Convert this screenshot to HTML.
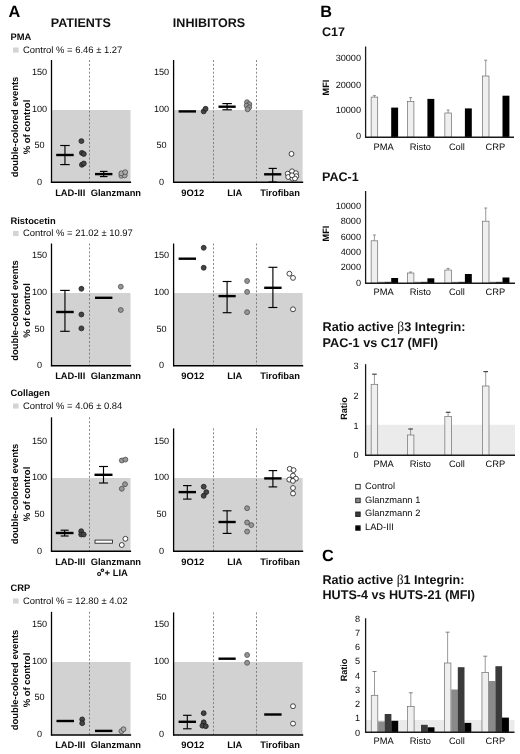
<!DOCTYPE html>
<html><head><meta charset="utf-8"><title>Figure</title>
<style>html,body{margin:0;padding:0;background:#fff;}svg{display:block;will-change:transform;}</style></head><body>
<svg width="520" height="754" viewBox="0 0 520 754" text-rendering="geometricPrecision" font-family='"Liberation Sans", sans-serif'>
<rect x="0" y="0" width="520" height="754" fill="#ffffff"/>
<text x="8.6" y="17" font-size="16.3" font-weight="bold" text-anchor="start" fill="#000">A</text>
<text x="80.8" y="27" font-size="12.55" font-weight="bold" text-anchor="middle" fill="#111">PATIENTS</text>
<text x="209" y="27" font-size="12.55" font-weight="bold" text-anchor="middle" fill="#111">INHIBITORS</text>
<text x="10.5" y="40" font-size="9.35" font-weight="bold" text-anchor="start" fill="#0a0a0a">PMA</text>
<rect x="13.00" y="47.50" width="5.60" height="5.10" fill="#d4d4d4"/>
<text x="23" y="52.5" font-size="9.45" text-anchor="start" fill="#0a0a0a">Control % = 6.46 ± 1.27</text>
<rect x="51.50" y="110.00" width="79.00" height="72.00" fill="#d2d2d2"/>
<line x1="89.5" y1="60" x2="89.5" y2="182" stroke="#6a6a6a" stroke-width="0.8" stroke-dasharray="2 1.9"/>
<line x1="51.5" y1="60" x2="51.5" y2="182.7" stroke="#000" stroke-width="1.3"/>
<line x1="50.9" y1="182.2" x2="131.1" y2="182.2" stroke="#000" stroke-width="1.4"/>
<text x="39.6" y="75" font-size="9.1" text-anchor="middle" fill="#0a0a0a">150</text>
<text x="39.6" y="112" font-size="9.1" text-anchor="middle" fill="#0a0a0a">100</text>
<text x="39.6" y="148" font-size="9.1" text-anchor="middle" fill="#0a0a0a">50</text>
<text x="39.6" y="185" font-size="9.1" text-anchor="middle" fill="#0a0a0a">0</text>
<text x="70.2" y="195.8" font-size="9.35" font-weight="bold" text-anchor="middle" fill="#0a0a0a">LAD-III</text>
<text x="115.9" y="195.8" font-size="9.35" font-weight="bold" text-anchor="middle" fill="#0a0a0a">Glanzmann</text>
<rect x="173.60" y="110.00" width="129.00" height="72.00" fill="#d2d2d2"/>
<line x1="213.5" y1="60" x2="213.5" y2="182" stroke="#6a6a6a" stroke-width="0.8" stroke-dasharray="2 1.9"/>
<line x1="256.5" y1="60" x2="256.5" y2="182" stroke="#6a6a6a" stroke-width="0.8" stroke-dasharray="2 1.9"/>
<line x1="173.6" y1="60" x2="173.6" y2="182.7" stroke="#000" stroke-width="1.3"/>
<line x1="173.0" y1="182.2" x2="303.20000000000005" y2="182.2" stroke="#000" stroke-width="1.4"/>
<text x="161.5" y="75" font-size="9.1" text-anchor="middle" fill="#0a0a0a">150</text>
<text x="161.5" y="112" font-size="9.1" text-anchor="middle" fill="#0a0a0a">100</text>
<text x="161.5" y="148" font-size="9.1" text-anchor="middle" fill="#0a0a0a">50</text>
<text x="161.5" y="185" font-size="9.1" text-anchor="middle" fill="#0a0a0a">0</text>
<text x="192.8" y="195.8" font-size="9.35" font-weight="bold" text-anchor="middle" fill="#0a0a0a">9O12</text>
<text x="234.8" y="195.8" font-size="9.35" font-weight="bold" text-anchor="middle" fill="#0a0a0a">LIA</text>
<text x="280.1" y="195.8" font-size="9.35" font-weight="bold" text-anchor="middle" fill="#0a0a0a">Tirofiban</text>
<text transform="translate(18.2,127) rotate(-90)" font-size="9.45" font-weight="bold" text-anchor="middle" fill="#0a0a0a">double-colored events</text>
<text transform="translate(29.9,127) rotate(-90)" font-size="9.45" font-weight="bold" text-anchor="middle" fill="#0a0a0a">% of control</text>
<text x="10.5" y="223.5" font-size="9.35" font-weight="bold" text-anchor="start" fill="#0a0a0a">Ristocetin</text>
<rect x="13.00" y="231.00" width="5.60" height="5.10" fill="#d4d4d4"/>
<text x="23" y="236" font-size="9.45" text-anchor="start" fill="#0a0a0a">Control % = 21.02 ± 10.97</text>
<rect x="51.50" y="293.00" width="79.00" height="72.50" fill="#d2d2d2"/>
<line x1="89.5" y1="243.5" x2="89.5" y2="365.5" stroke="#6a6a6a" stroke-width="0.8" stroke-dasharray="2 1.9"/>
<line x1="51.5" y1="243.5" x2="51.5" y2="366.2" stroke="#000" stroke-width="1.3"/>
<line x1="50.9" y1="365.7" x2="131.1" y2="365.7" stroke="#000" stroke-width="1.4"/>
<text x="39.6" y="258" font-size="9.1" text-anchor="middle" fill="#0a0a0a">150</text>
<text x="39.6" y="295" font-size="9.1" text-anchor="middle" fill="#0a0a0a">100</text>
<text x="39.6" y="332" font-size="9.1" text-anchor="middle" fill="#0a0a0a">50</text>
<text x="39.6" y="368" font-size="9.1" text-anchor="middle" fill="#0a0a0a">0</text>
<text x="70.2" y="379" font-size="9.35" font-weight="bold" text-anchor="middle" fill="#0a0a0a">LAD-III</text>
<text x="115.9" y="379" font-size="9.35" font-weight="bold" text-anchor="middle" fill="#0a0a0a">Glanzmann</text>
<rect x="173.60" y="293.00" width="129.00" height="72.50" fill="#d2d2d2"/>
<line x1="213.5" y1="243.5" x2="213.5" y2="365.5" stroke="#6a6a6a" stroke-width="0.8" stroke-dasharray="2 1.9"/>
<line x1="256.5" y1="243.5" x2="256.5" y2="365.5" stroke="#6a6a6a" stroke-width="0.8" stroke-dasharray="2 1.9"/>
<line x1="173.6" y1="243.5" x2="173.6" y2="366.2" stroke="#000" stroke-width="1.3"/>
<line x1="173.0" y1="365.7" x2="303.20000000000005" y2="365.7" stroke="#000" stroke-width="1.4"/>
<text x="161.5" y="258" font-size="9.1" text-anchor="middle" fill="#0a0a0a">150</text>
<text x="161.5" y="295" font-size="9.1" text-anchor="middle" fill="#0a0a0a">100</text>
<text x="161.5" y="332" font-size="9.1" text-anchor="middle" fill="#0a0a0a">50</text>
<text x="161.5" y="368" font-size="9.1" text-anchor="middle" fill="#0a0a0a">0</text>
<text x="192.8" y="379" font-size="9.35" font-weight="bold" text-anchor="middle" fill="#0a0a0a">9O12</text>
<text x="234.8" y="379" font-size="9.35" font-weight="bold" text-anchor="middle" fill="#0a0a0a">LIA</text>
<text x="280.1" y="379" font-size="9.35" font-weight="bold" text-anchor="middle" fill="#0a0a0a">Tirofiban</text>
<text transform="translate(18.2,310.5) rotate(-90)" font-size="9.45" font-weight="bold" text-anchor="middle" fill="#0a0a0a">double-colored events</text>
<text transform="translate(29.9,310.5) rotate(-90)" font-size="9.45" font-weight="bold" text-anchor="middle" fill="#0a0a0a">% of control</text>
<text x="10.5" y="395.7" font-size="9.35" font-weight="bold" text-anchor="start" fill="#0a0a0a">Collagen</text>
<rect x="13.00" y="403.50" width="5.60" height="5.10" fill="#d4d4d4"/>
<text x="23" y="408.5" font-size="9.45" text-anchor="start" fill="#0a0a0a">Control % = 4.06 ± 0.84</text>
<rect x="51.50" y="478.00" width="79.00" height="73.00" fill="#d2d2d2"/>
<line x1="89.5" y1="417.3" x2="89.5" y2="551" stroke="#6a6a6a" stroke-width="0.8" stroke-dasharray="2 1.9"/>
<line x1="51.5" y1="417.3" x2="51.5" y2="551.7" stroke="#000" stroke-width="1.3"/>
<line x1="50.9" y1="551.2" x2="131.1" y2="551.2" stroke="#000" stroke-width="1.4"/>
<text x="39.6" y="444" font-size="9.1" text-anchor="middle" fill="#0a0a0a">150</text>
<text x="39.6" y="480" font-size="9.1" text-anchor="middle" fill="#0a0a0a">100</text>
<text x="39.6" y="517" font-size="9.1" text-anchor="middle" fill="#0a0a0a">50</text>
<text x="39.6" y="554" font-size="9.1" text-anchor="middle" fill="#0a0a0a">0</text>
<text x="70.2" y="564.9" font-size="9.35" font-weight="bold" text-anchor="middle" fill="#0a0a0a">LAD-III</text>
<text x="115.9" y="564.9" font-size="9.35" font-weight="bold" text-anchor="middle" fill="#0a0a0a">Glanzmann</text>
<rect x="173.60" y="478.00" width="129.00" height="73.00" fill="#d2d2d2"/>
<line x1="213.5" y1="428.4" x2="213.5" y2="551" stroke="#6a6a6a" stroke-width="0.8" stroke-dasharray="2 1.9"/>
<line x1="256.5" y1="428.4" x2="256.5" y2="551" stroke="#6a6a6a" stroke-width="0.8" stroke-dasharray="2 1.9"/>
<line x1="173.6" y1="428.4" x2="173.6" y2="551.7" stroke="#000" stroke-width="1.3"/>
<line x1="173.0" y1="551.2" x2="303.20000000000005" y2="551.2" stroke="#000" stroke-width="1.4"/>
<text x="161.5" y="444" font-size="9.1" text-anchor="middle" fill="#0a0a0a">150</text>
<text x="161.5" y="480" font-size="9.1" text-anchor="middle" fill="#0a0a0a">100</text>
<text x="161.5" y="517" font-size="9.1" text-anchor="middle" fill="#0a0a0a">50</text>
<text x="161.5" y="554" font-size="9.1" text-anchor="middle" fill="#0a0a0a">0</text>
<text x="192.8" y="564.9" font-size="9.35" font-weight="bold" text-anchor="middle" fill="#0a0a0a">9O12</text>
<text x="234.8" y="564.9" font-size="9.35" font-weight="bold" text-anchor="middle" fill="#0a0a0a">LIA</text>
<text x="280.1" y="564.9" font-size="9.35" font-weight="bold" text-anchor="middle" fill="#0a0a0a">Tirofiban</text>
<text transform="translate(18.2,494) rotate(-90)" font-size="9.45" font-weight="bold" text-anchor="middle" fill="#0a0a0a">double-colored events</text>
<text transform="translate(29.9,494) rotate(-90)" font-size="9.45" font-weight="bold" text-anchor="middle" fill="#0a0a0a">% of control</text>
<text x="10.5" y="591" font-size="9.35" font-weight="bold" text-anchor="start" fill="#0a0a0a">CRP</text>
<rect x="13.00" y="598.50" width="5.60" height="5.10" fill="#d4d4d4"/>
<text x="23" y="603.5" font-size="9.45" text-anchor="start" fill="#0a0a0a">Control % = 12.80 ± 4.02</text>
<rect x="51.50" y="662.00" width="79.00" height="72.80" fill="#d2d2d2"/>
<line x1="89.5" y1="611.8" x2="89.5" y2="734.8" stroke="#6a6a6a" stroke-width="0.8" stroke-dasharray="2 1.9"/>
<line x1="51.5" y1="611.8" x2="51.5" y2="735.5" stroke="#000" stroke-width="1.3"/>
<line x1="50.9" y1="735.0" x2="131.1" y2="735.0" stroke="#000" stroke-width="1.4"/>
<text x="39.6" y="627" font-size="9.1" text-anchor="middle" fill="#0a0a0a">150</text>
<text x="39.6" y="664" font-size="9.1" text-anchor="middle" fill="#0a0a0a">100</text>
<text x="39.6" y="700" font-size="9.1" text-anchor="middle" fill="#0a0a0a">50</text>
<text x="39.6" y="737" font-size="9.1" text-anchor="middle" fill="#0a0a0a">0</text>
<text x="70.2" y="747.6" font-size="9.35" font-weight="bold" text-anchor="middle" fill="#0a0a0a">LAD-III</text>
<text x="115.9" y="747.6" font-size="9.35" font-weight="bold" text-anchor="middle" fill="#0a0a0a">Glanzmann</text>
<rect x="173.60" y="662.00" width="129.00" height="72.80" fill="#d2d2d2"/>
<line x1="213.5" y1="612.4" x2="213.5" y2="734.8" stroke="#6a6a6a" stroke-width="0.8" stroke-dasharray="2 1.9"/>
<line x1="256.5" y1="612.4" x2="256.5" y2="734.8" stroke="#6a6a6a" stroke-width="0.8" stroke-dasharray="2 1.9"/>
<line x1="173.6" y1="612.4" x2="173.6" y2="735.5" stroke="#000" stroke-width="1.3"/>
<line x1="173.0" y1="735.0" x2="303.20000000000005" y2="735.0" stroke="#000" stroke-width="1.4"/>
<text x="161.5" y="627" font-size="9.1" text-anchor="middle" fill="#0a0a0a">150</text>
<text x="161.5" y="664" font-size="9.1" text-anchor="middle" fill="#0a0a0a">100</text>
<text x="161.5" y="700" font-size="9.1" text-anchor="middle" fill="#0a0a0a">50</text>
<text x="161.5" y="737" font-size="9.1" text-anchor="middle" fill="#0a0a0a">0</text>
<text x="192.8" y="747.6" font-size="9.35" font-weight="bold" text-anchor="middle" fill="#0a0a0a">9O12</text>
<text x="234.8" y="747.6" font-size="9.35" font-weight="bold" text-anchor="middle" fill="#0a0a0a">LIA</text>
<text x="280.1" y="747.6" font-size="9.35" font-weight="bold" text-anchor="middle" fill="#0a0a0a">Tirofiban</text>
<text transform="translate(18.2,680) rotate(-90)" font-size="9.45" font-weight="bold" text-anchor="middle" fill="#0a0a0a">double-colored events</text>
<text transform="translate(29.9,680) rotate(-90)" font-size="9.45" font-weight="bold" text-anchor="middle" fill="#0a0a0a">% of control</text>
<line x1="64.95" y1="145.5" x2="64.95" y2="164.6" stroke="#000" stroke-width="1.15"/>
<line x1="60.2" y1="145.5" x2="69.7" y2="145.5" stroke="#000" stroke-width="1.15"/>
<line x1="60.2" y1="164.6" x2="69.7" y2="164.6" stroke="#000" stroke-width="1.15"/>
<line x1="56.2" y1="155" x2="73.7" y2="155" stroke="#000" stroke-width="2.4"/>
<circle cx="81.4" cy="141.1" r="2.45" fill="#444444" stroke="#1c1c1c" stroke-width="0.8"/>
<circle cx="81.9" cy="152.9" r="2.45" fill="#444444" stroke="#1c1c1c" stroke-width="0.8"/>
<circle cx="83.8" cy="154" r="2.45" fill="#444444" stroke="#1c1c1c" stroke-width="0.8"/>
<circle cx="81.9" cy="164.8" r="2.45" fill="#444444" stroke="#1c1c1c" stroke-width="0.8"/>
<circle cx="83.8" cy="163.5" r="2.45" fill="#444444" stroke="#1c1c1c" stroke-width="0.8"/>
<line x1="103.7" y1="171.4" x2="103.7" y2="176.6" stroke="#000" stroke-width="1.15"/>
<line x1="99.9" y1="171.4" x2="107.5" y2="171.4" stroke="#000" stroke-width="1.15"/>
<line x1="99.9" y1="176.6" x2="107.5" y2="176.6" stroke="#000" stroke-width="1.15"/>
<line x1="95" y1="174.1" x2="112.4" y2="174.1" stroke="#000" stroke-width="2.4"/>
<circle cx="121.4" cy="175.8" r="2.45" fill="#aaaaaa" stroke="#4a4a4a" stroke-width="0.8"/>
<circle cx="124.7" cy="175.4" r="2.45" fill="#aaaaaa" stroke="#4a4a4a" stroke-width="0.8"/>
<circle cx="121.4" cy="173.3" r="2.45" fill="#aaaaaa" stroke="#4a4a4a" stroke-width="0.8"/>
<circle cx="125.2" cy="172.2" r="2.45" fill="#aaaaaa" stroke="#4a4a4a" stroke-width="0.8"/>
<line x1="178.6" y1="111.4" x2="196" y2="111.4" stroke="#000" stroke-width="2.4"/>
<circle cx="203.7" cy="111.4" r="2.45" fill="#444444" stroke="#1c1c1c" stroke-width="0.8"/>
<circle cx="205.6" cy="108.8" r="2.45" fill="#444444" stroke="#1c1c1c" stroke-width="0.8"/>
<line x1="227.1" y1="103.6" x2="227.1" y2="109.8" stroke="#000" stroke-width="1.15"/>
<line x1="222.35" y1="103.6" x2="231.85" y2="103.6" stroke="#000" stroke-width="1.15"/>
<line x1="222.35" y1="109.8" x2="231.85" y2="109.8" stroke="#000" stroke-width="1.15"/>
<line x1="218.5" y1="106.7" x2="235.7" y2="106.7" stroke="#000" stroke-width="2.4"/>
<circle cx="247" cy="102.2" r="2.45" fill="#969696" stroke="#4c4c4c" stroke-width="0.8"/>
<circle cx="249.3" cy="104.2" r="2.45" fill="#969696" stroke="#4c4c4c" stroke-width="0.8"/>
<circle cx="246.6" cy="105.6" r="2.45" fill="#969696" stroke="#4c4c4c" stroke-width="0.8"/>
<circle cx="249.2" cy="107.3" r="2.45" fill="#969696" stroke="#4c4c4c" stroke-width="0.8"/>
<circle cx="247.6" cy="109.3" r="2.45" fill="#969696" stroke="#4c4c4c" stroke-width="0.8"/>
<line x1="272.70000000000005" y1="168.4" x2="272.70000000000005" y2="182" stroke="#000" stroke-width="1.15"/>
<line x1="268.6" y1="168.4" x2="276.80000000000007" y2="168.4" stroke="#000" stroke-width="1.15"/>
<line x1="268.6" y1="182" x2="276.80000000000007" y2="182" stroke="#000" stroke-width="1.15"/>
<line x1="264.1" y1="174.3" x2="281.3" y2="174.3" stroke="#000" stroke-width="2.4"/>
<circle cx="291.5" cy="153.9" r="2.45" fill="#ffffff" stroke="#1c1c1c" stroke-width="0.8"/>
<circle cx="292" cy="171.3" r="2.45" fill="#ffffff" stroke="#1c1c1c" stroke-width="0.8"/>
<circle cx="287.7" cy="173.7" r="2.45" fill="#ffffff" stroke="#1c1c1c" stroke-width="0.8"/>
<circle cx="295.9" cy="173.2" r="2.45" fill="#ffffff" stroke="#1c1c1c" stroke-width="0.8"/>
<circle cx="288.2" cy="177" r="2.45" fill="#ffffff" stroke="#1c1c1c" stroke-width="0.8"/>
<circle cx="296.3" cy="176.2" r="2.45" fill="#ffffff" stroke="#1c1c1c" stroke-width="0.8"/>
<circle cx="292.5" cy="178.6" r="2.45" fill="#ffffff" stroke="#1c1c1c" stroke-width="0.8"/>
<circle cx="294.9" cy="178.5" r="2.45" fill="#ffffff" stroke="#1c1c1c" stroke-width="0.8"/>
<circle cx="292" cy="175.3" r="2.45" fill="#ffffff" stroke="#1c1c1c" stroke-width="0.8"/>
<line x1="64.95" y1="290.4" x2="64.95" y2="331.3" stroke="#000" stroke-width="1.15"/>
<line x1="60.2" y1="290.4" x2="69.7" y2="290.4" stroke="#000" stroke-width="1.15"/>
<line x1="60.2" y1="331.3" x2="69.7" y2="331.3" stroke="#000" stroke-width="1.15"/>
<line x1="56.2" y1="312" x2="73.7" y2="312" stroke="#000" stroke-width="2.4"/>
<circle cx="81.4" cy="288.8" r="2.45" fill="#444444" stroke="#1c1c1c" stroke-width="0.8"/>
<circle cx="81.4" cy="314.5" r="2.45" fill="#444444" stroke="#1c1c1c" stroke-width="0.8"/>
<circle cx="81.4" cy="328.4" r="2.45" fill="#444444" stroke="#1c1c1c" stroke-width="0.8"/>
<line x1="95" y1="297.8" x2="112.4" y2="297.8" stroke="#000" stroke-width="2.4"/>
<circle cx="120.8" cy="286.7" r="2.45" fill="#969696" stroke="#4c4c4c" stroke-width="0.8"/>
<circle cx="120.8" cy="310" r="2.45" fill="#969696" stroke="#4c4c4c" stroke-width="0.8"/>
<line x1="178.6" y1="258.7" x2="196" y2="258.7" stroke="#000" stroke-width="2.4"/>
<circle cx="203.7" cy="247.8" r="2.45" fill="#444444" stroke="#1c1c1c" stroke-width="0.8"/>
<circle cx="203.7" cy="267.8" r="2.45" fill="#444444" stroke="#1c1c1c" stroke-width="0.8"/>
<line x1="227.1" y1="281.5" x2="227.1" y2="312.7" stroke="#000" stroke-width="1.15"/>
<line x1="222.7" y1="281.5" x2="231.5" y2="281.5" stroke="#000" stroke-width="1.15"/>
<line x1="222.7" y1="312.7" x2="231.5" y2="312.7" stroke="#000" stroke-width="1.15"/>
<line x1="218.5" y1="296.1" x2="235.7" y2="296.1" stroke="#000" stroke-width="2.4"/>
<circle cx="247.1" cy="281" r="2.45" fill="#969696" stroke="#4c4c4c" stroke-width="0.8"/>
<circle cx="247.1" cy="291.9" r="2.45" fill="#969696" stroke="#4c4c4c" stroke-width="0.8"/>
<circle cx="247.1" cy="312.2" r="2.45" fill="#969696" stroke="#4c4c4c" stroke-width="0.8"/>
<line x1="272.9" y1="267.3" x2="272.9" y2="307.5" stroke="#000" stroke-width="1.15"/>
<line x1="268.4" y1="267.3" x2="277.4" y2="267.3" stroke="#000" stroke-width="1.15"/>
<line x1="268.4" y1="307.5" x2="277.4" y2="307.5" stroke="#000" stroke-width="1.15"/>
<line x1="264.2" y1="287.8" x2="281.6" y2="287.8" stroke="#000" stroke-width="2.4"/>
<circle cx="289.4" cy="273.7" r="2.45" fill="#ffffff" stroke="#1c1c1c" stroke-width="0.8"/>
<circle cx="293" cy="277.9" r="2.45" fill="#ffffff" stroke="#1c1c1c" stroke-width="0.8"/>
<circle cx="293" cy="309.3" r="2.45" fill="#ffffff" stroke="#1c1c1c" stroke-width="0.8"/>
<line x1="64.65" y1="530.2" x2="64.65" y2="536" stroke="#000" stroke-width="1.15"/>
<line x1="60.650000000000006" y1="530.2" x2="68.65" y2="530.2" stroke="#000" stroke-width="1.15"/>
<line x1="60.650000000000006" y1="536" x2="68.65" y2="536" stroke="#000" stroke-width="1.15"/>
<line x1="55.8" y1="533" x2="73.5" y2="533" stroke="#000" stroke-width="2.4"/>
<circle cx="81.2" cy="531.2" r="2.45" fill="#444444" stroke="#1c1c1c" stroke-width="0.8"/>
<circle cx="81.2" cy="534.5" r="2.45" fill="#444444" stroke="#1c1c1c" stroke-width="0.8"/>
<circle cx="83.7" cy="534.5" r="2.45" fill="#444444" stroke="#1c1c1c" stroke-width="0.8"/>
<line x1="103.5" y1="466.5" x2="103.5" y2="483" stroke="#000" stroke-width="1.15"/>
<line x1="99.0" y1="466.5" x2="108.0" y2="466.5" stroke="#000" stroke-width="1.15"/>
<line x1="99.0" y1="483" x2="108.0" y2="483" stroke="#000" stroke-width="1.15"/>
<line x1="94.5" y1="474.8" x2="112.5" y2="474.8" stroke="#000" stroke-width="2.4"/>
<circle cx="121.8" cy="460.5" r="2.45" fill="#969696" stroke="#4c4c4c" stroke-width="0.8"/>
<circle cx="125.4" cy="459.6" r="2.45" fill="#969696" stroke="#4c4c4c" stroke-width="0.8"/>
<circle cx="125" cy="484.2" r="2.45" fill="#969696" stroke="#4c4c4c" stroke-width="0.8"/>
<circle cx="121.8" cy="488.8" r="2.45" fill="#969696" stroke="#4c4c4c" stroke-width="0.8"/>
<rect x="95.00" y="540.10" width="17.50" height="3.10" fill="#fff" stroke="#111" stroke-width="0.8"/>
<circle cx="125.4" cy="538.8" r="2.45" fill="#ffffff" stroke="#1c1c1c" stroke-width="0.8"/>
<circle cx="121.8" cy="545" r="2.45" fill="#ffffff" stroke="#1c1c1c" stroke-width="0.8"/>
<line x1="187.3" y1="485.6" x2="187.3" y2="499.1" stroke="#000" stroke-width="1.15"/>
<line x1="183.05" y1="485.6" x2="191.55" y2="485.6" stroke="#000" stroke-width="1.15"/>
<line x1="183.05" y1="499.1" x2="191.55" y2="499.1" stroke="#000" stroke-width="1.15"/>
<line x1="178.6" y1="492.1" x2="196" y2="492.1" stroke="#000" stroke-width="2.4"/>
<circle cx="203.7" cy="486.7" r="2.45" fill="#444444" stroke="#1c1c1c" stroke-width="0.8"/>
<circle cx="206.3" cy="492.1" r="2.45" fill="#444444" stroke="#1c1c1c" stroke-width="0.8"/>
<circle cx="203.7" cy="495.8" r="2.45" fill="#444444" stroke="#1c1c1c" stroke-width="0.8"/>
<line x1="227.1" y1="510.8" x2="227.1" y2="533.4" stroke="#000" stroke-width="1.15"/>
<line x1="222.7" y1="510.8" x2="231.5" y2="510.8" stroke="#000" stroke-width="1.15"/>
<line x1="222.7" y1="533.4" x2="231.5" y2="533.4" stroke="#000" stroke-width="1.15"/>
<line x1="218.5" y1="522" x2="235.7" y2="522" stroke="#000" stroke-width="2.4"/>
<circle cx="247.1" cy="508.2" r="2.45" fill="#969696" stroke="#4c4c4c" stroke-width="0.8"/>
<circle cx="247.1" cy="522.5" r="2.45" fill="#969696" stroke="#4c4c4c" stroke-width="0.8"/>
<circle cx="251.3" cy="525.1" r="2.45" fill="#969696" stroke="#4c4c4c" stroke-width="0.8"/>
<circle cx="247.1" cy="531.6" r="2.45" fill="#969696" stroke="#4c4c4c" stroke-width="0.8"/>
<line x1="272.9" y1="470.6" x2="272.9" y2="486.9" stroke="#000" stroke-width="1.15"/>
<line x1="268.59999999999997" y1="470.6" x2="277.2" y2="470.6" stroke="#000" stroke-width="1.15"/>
<line x1="268.59999999999997" y1="486.9" x2="277.2" y2="486.9" stroke="#000" stroke-width="1.15"/>
<line x1="264.2" y1="478.4" x2="281.6" y2="478.4" stroke="#000" stroke-width="2.4"/>
<circle cx="289.7" cy="468.8" r="2.45" fill="#ffffff" stroke="#1c1c1c" stroke-width="0.8"/>
<circle cx="293.6" cy="470.1" r="2.45" fill="#ffffff" stroke="#1c1c1c" stroke-width="0.8"/>
<circle cx="293" cy="475.6" r="2.45" fill="#ffffff" stroke="#1c1c1c" stroke-width="0.8"/>
<circle cx="289.3" cy="479.6" r="2.45" fill="#ffffff" stroke="#1c1c1c" stroke-width="0.8"/>
<circle cx="295.9" cy="478.6" r="2.45" fill="#ffffff" stroke="#1c1c1c" stroke-width="0.8"/>
<circle cx="292.9" cy="480.9" r="2.45" fill="#ffffff" stroke="#1c1c1c" stroke-width="0.8"/>
<circle cx="293" cy="488" r="2.45" fill="#ffffff" stroke="#1c1c1c" stroke-width="0.8"/>
<circle cx="293" cy="493.5" r="2.45" fill="#ffffff" stroke="#1c1c1c" stroke-width="0.8"/>
<circle cx="99.1" cy="573.9" r="1.5" fill="#fff" stroke="#000" stroke-width="1.05"/>
<circle cx="102.4" cy="570.2" r="1.3" fill="#fff" stroke="#000" stroke-width="1.05"/>
<text x="104.5" y="576" font-size="9.45" font-weight="bold" text-anchor="start" fill="#0a0a0a">+ LIA</text>
<line x1="56.5" y1="721" x2="74" y2="721" stroke="#000" stroke-width="2.4"/>
<circle cx="82.2" cy="719.4" r="2.45" fill="#444444" stroke="#1c1c1c" stroke-width="0.8"/>
<circle cx="82.2" cy="723.2" r="2.45" fill="#444444" stroke="#1c1c1c" stroke-width="0.8"/>
<line x1="95" y1="730.9" x2="112.4" y2="730.9" stroke="#000" stroke-width="2.4"/>
<circle cx="121.4" cy="731.2" r="2.45" fill="#aaaaaa" stroke="#4a4a4a" stroke-width="0.8"/>
<circle cx="123.5" cy="729.2" r="2.45" fill="#aaaaaa" stroke="#4a4a4a" stroke-width="0.8"/>
<line x1="187.3" y1="715.3" x2="187.3" y2="728.8" stroke="#000" stroke-width="1.15"/>
<line x1="183.05" y1="715.3" x2="191.55" y2="715.3" stroke="#000" stroke-width="1.15"/>
<line x1="183.05" y1="728.8" x2="191.55" y2="728.8" stroke="#000" stroke-width="1.15"/>
<line x1="178.6" y1="721.8" x2="196" y2="721.8" stroke="#000" stroke-width="2.4"/>
<circle cx="203.7" cy="713.2" r="2.45" fill="#444444" stroke="#1c1c1c" stroke-width="0.8"/>
<circle cx="203.7" cy="722.3" r="2.45" fill="#444444" stroke="#1c1c1c" stroke-width="0.8"/>
<circle cx="202.4" cy="725.7" r="2.45" fill="#444444" stroke="#1c1c1c" stroke-width="0.8"/>
<circle cx="205.8" cy="726.2" r="2.45" fill="#444444" stroke="#1c1c1c" stroke-width="0.8"/>
<line x1="218.5" y1="658.7" x2="235.7" y2="658.7" stroke="#000" stroke-width="2.4"/>
<circle cx="247.1" cy="655" r="2.45" fill="#969696" stroke="#4c4c4c" stroke-width="0.8"/>
<circle cx="247.1" cy="662.8" r="2.45" fill="#969696" stroke="#4c4c4c" stroke-width="0.8"/>
<line x1="264.2" y1="714.5" x2="281.6" y2="714.5" stroke="#000" stroke-width="2.4"/>
<circle cx="293" cy="706.2" r="2.45" fill="#ffffff" stroke="#1c1c1c" stroke-width="0.8"/>
<circle cx="293" cy="723.6" r="2.45" fill="#ffffff" stroke="#1c1c1c" stroke-width="0.8"/>
<text x="320.2" y="17" font-size="16.3" font-weight="bold" text-anchor="start" fill="#000">B</text>
<text x="322" y="36" font-size="12.55" font-weight="bold" text-anchor="start" fill="#111">C17</text>
<text x="322" y="180.5" font-size="12.55" font-weight="bold" text-anchor="start" fill="#111">PAC-1</text>
<text x="361" y="61" font-size="9.15" text-anchor="end" fill="#0a0a0a">30000</text>
<text x="361" y="88" font-size="9.15" text-anchor="end" fill="#0a0a0a">20000</text>
<text x="361" y="113" font-size="9.15" text-anchor="end" fill="#0a0a0a">10000</text>
<text x="361" y="139" font-size="9.15" text-anchor="end" fill="#0a0a0a">0</text>
<line x1="374.42" y1="95.6" x2="374.42" y2="97.1" stroke="#808080" stroke-width="0.8"/>
<line x1="372.92" y1="95.6" x2="375.92" y2="95.6" stroke="#777" stroke-width="0.8"/>
<rect x="371.15" y="97.10" width="6.55" height="40.10" fill="#efefef" stroke="#6e6e6e" stroke-width="0.7"/>
<rect x="391.20" y="107.60" width="6.90" height="29.60" fill="#000000"/>
<line x1="410.62" y1="97.6" x2="410.62" y2="101.4" stroke="#808080" stroke-width="0.8"/>
<line x1="409.12" y1="97.6" x2="412.12" y2="97.6" stroke="#777" stroke-width="0.8"/>
<rect x="407.35" y="101.40" width="6.55" height="35.80" fill="#efefef" stroke="#6e6e6e" stroke-width="0.7"/>
<rect x="427.40" y="98.90" width="6.90" height="38.30" fill="#000000"/>
<line x1="448.12" y1="110" x2="448.12" y2="113" stroke="#808080" stroke-width="0.8"/>
<line x1="446.62" y1="110" x2="449.62" y2="110" stroke="#777" stroke-width="0.8"/>
<rect x="444.85" y="113.00" width="6.55" height="24.20" fill="#efefef" stroke="#6e6e6e" stroke-width="0.7"/>
<rect x="464.90" y="108.40" width="6.90" height="28.80" fill="#000000"/>
<line x1="485.72" y1="60.2" x2="485.72" y2="76" stroke="#808080" stroke-width="0.8"/>
<line x1="484.22" y1="60.2" x2="487.22" y2="60.2" stroke="#777" stroke-width="0.8"/>
<rect x="482.45" y="76.00" width="6.55" height="61.20" fill="#efefef" stroke="#6e6e6e" stroke-width="0.7"/>
<rect x="502.50" y="95.70" width="6.90" height="41.50" fill="#000000"/>
<line x1="365.6" y1="46.5" x2="365.6" y2="137.79999999999998" stroke="#1a1a1a" stroke-width="1.3"/>
<line x1="365.0" y1="137.2" x2="514" y2="137.2" stroke="#1a1a1a" stroke-width="1.4"/>
<text x="383.7" y="149.6" font-size="9.3" text-anchor="middle" fill="#0a0a0a">PMA</text>
<text x="420.3" y="149.6" font-size="9.3" text-anchor="middle" fill="#0a0a0a">Risto</text>
<text x="456.9" y="149.6" font-size="9.3" text-anchor="middle" fill="#0a0a0a">Coll</text>
<text x="495.4" y="149.6" font-size="9.3" text-anchor="middle" fill="#0a0a0a">CRP</text>
<text transform="translate(328.8,87.5) rotate(-90)" font-size="9.2" font-weight="bold" text-anchor="middle" fill="#0a0a0a">MFI</text>
<text x="361" y="209" font-size="9.15" text-anchor="end" fill="#0a0a0a">10000</text>
<text x="361" y="224" font-size="9.15" text-anchor="end" fill="#0a0a0a">8000</text>
<text x="361" y="240" font-size="9.15" text-anchor="end" fill="#0a0a0a">6000</text>
<text x="361" y="255" font-size="9.15" text-anchor="end" fill="#0a0a0a">4000</text>
<text x="361" y="270" font-size="9.15" text-anchor="end" fill="#0a0a0a">2000</text>
<text x="361" y="286" font-size="9.15" text-anchor="end" fill="#0a0a0a">0</text>
<line x1="374.42" y1="235" x2="374.42" y2="240.8" stroke="#808080" stroke-width="0.8"/>
<line x1="372.92" y1="235" x2="375.92" y2="235" stroke="#777" stroke-width="0.8"/>
<rect x="371.15" y="240.80" width="6.55" height="42.40" fill="#efefef" stroke="#6e6e6e" stroke-width="0.7"/>
<rect x="378.00" y="281.80" width="6.70" height="1.40" fill="#8a8a8a"/>
<rect x="384.60" y="281.80" width="6.70" height="1.40" fill="#3a3a3a"/>
<rect x="391.20" y="278.00" width="6.90" height="5.20" fill="#000000"/>
<line x1="410.62" y1="272" x2="410.62" y2="273" stroke="#808080" stroke-width="0.8"/>
<line x1="409.12" y1="272" x2="412.12" y2="272" stroke="#777" stroke-width="0.8"/>
<rect x="407.35" y="273.00" width="6.55" height="10.20" fill="#efefef" stroke="#6e6e6e" stroke-width="0.7"/>
<rect x="414.20" y="281.80" width="6.70" height="1.40" fill="#8a8a8a"/>
<rect x="420.80" y="281.80" width="6.70" height="1.40" fill="#3a3a3a"/>
<rect x="427.40" y="278.30" width="6.90" height="4.90" fill="#000000"/>
<line x1="448.12" y1="268.4" x2="448.12" y2="270" stroke="#808080" stroke-width="0.8"/>
<line x1="446.62" y1="268.4" x2="449.62" y2="268.4" stroke="#777" stroke-width="0.8"/>
<rect x="444.85" y="270.00" width="6.55" height="13.20" fill="#efefef" stroke="#6e6e6e" stroke-width="0.7"/>
<rect x="451.70" y="281.80" width="6.70" height="1.40" fill="#8a8a8a"/>
<rect x="458.30" y="281.80" width="6.70" height="1.40" fill="#3a3a3a"/>
<rect x="464.90" y="274.00" width="6.90" height="9.20" fill="#000000"/>
<line x1="485.72" y1="208" x2="485.72" y2="221.2" stroke="#808080" stroke-width="0.8"/>
<line x1="484.22" y1="208" x2="487.22" y2="208" stroke="#777" stroke-width="0.8"/>
<rect x="482.45" y="221.20" width="6.55" height="62.00" fill="#efefef" stroke="#6e6e6e" stroke-width="0.7"/>
<rect x="489.30" y="281.80" width="6.70" height="1.40" fill="#8a8a8a"/>
<rect x="495.90" y="281.80" width="6.70" height="1.40" fill="#3a3a3a"/>
<rect x="502.50" y="277.50" width="6.90" height="5.70" fill="#000000"/>
<line x1="365.6" y1="191" x2="365.6" y2="283.8" stroke="#1a1a1a" stroke-width="1.3"/>
<line x1="365.0" y1="283.2" x2="515" y2="283.2" stroke="#1a1a1a" stroke-width="1.4"/>
<text x="383.7" y="295.3" font-size="9.3" text-anchor="middle" fill="#0a0a0a">PMA</text>
<text x="420.3" y="295.3" font-size="9.3" text-anchor="middle" fill="#0a0a0a">Risto</text>
<text x="456.9" y="295.3" font-size="9.3" text-anchor="middle" fill="#0a0a0a">Coll</text>
<text x="495.4" y="295.3" font-size="9.3" text-anchor="middle" fill="#0a0a0a">CRP</text>
<text transform="translate(328.8,233.5) rotate(-90)" font-size="9.2" font-weight="bold" text-anchor="middle" fill="#0a0a0a">MFI</text>
<text x="322.5" y="331" font-size="12.7" font-weight="bold" fill="#111">Ratio active <tspan font-family='"Liberation Serif", serif' font-weight="normal" font-size="13.5">β</tspan>3 Integrin:</text>
<text x="322.5" y="347" font-size="12.7" font-weight="bold" text-anchor="start" fill="#111">PAC-1 vs C17 (MFI)</text>
<rect x="365.60" y="424.80" width="149.40" height="30.50" fill="#ebebeb"/>
<text x="358.6" y="369" font-size="9.15" text-anchor="end" fill="#0a0a0a">3</text>
<text x="358.6" y="399" font-size="9.15" text-anchor="end" fill="#0a0a0a">2</text>
<text x="358.6" y="429" font-size="9.15" text-anchor="end" fill="#0a0a0a">1</text>
<text x="358.6" y="458" font-size="9.15" text-anchor="end" fill="#0a0a0a">0</text>
<line x1="374.42" y1="374.2" x2="374.42" y2="384.3" stroke="#808080" stroke-width="0.8"/>
<line x1="372.12" y1="374.2" x2="376.72" y2="374.2" stroke="#444" stroke-width="1.2"/>
<rect x="371.15" y="384.30" width="6.55" height="71.00" fill="#efefef" stroke="#6e6e6e" stroke-width="0.7"/>
<line x1="410.62" y1="429" x2="410.62" y2="435" stroke="#808080" stroke-width="0.8"/>
<line x1="408.32" y1="429" x2="412.92" y2="429" stroke="#444" stroke-width="1.2"/>
<rect x="407.35" y="435.00" width="6.55" height="20.30" fill="#efefef" stroke="#6e6e6e" stroke-width="0.7"/>
<line x1="448.12" y1="412.3" x2="448.12" y2="416.6" stroke="#808080" stroke-width="0.8"/>
<line x1="445.82" y1="412.3" x2="450.42" y2="412.3" stroke="#444" stroke-width="1.2"/>
<rect x="444.85" y="416.60" width="6.55" height="38.70" fill="#efefef" stroke="#6e6e6e" stroke-width="0.7"/>
<line x1="485.72" y1="371.6" x2="485.72" y2="386" stroke="#808080" stroke-width="0.8"/>
<line x1="483.42" y1="371.6" x2="488.02000000000004" y2="371.6" stroke="#444" stroke-width="1.2"/>
<rect x="482.45" y="386.00" width="6.55" height="69.30" fill="#efefef" stroke="#6e6e6e" stroke-width="0.7"/>
<line x1="365.6" y1="364.2" x2="365.6" y2="455.90000000000003" stroke="#1a1a1a" stroke-width="1.3"/>
<line x1="365.0" y1="455.3" x2="515" y2="455.3" stroke="#1a1a1a" stroke-width="1.4"/>
<text x="383.7" y="467.2" font-size="9.3" text-anchor="middle" fill="#0a0a0a">PMA</text>
<text x="420.3" y="467.2" font-size="9.3" text-anchor="middle" fill="#0a0a0a">Risto</text>
<text x="456.9" y="467.2" font-size="9.3" text-anchor="middle" fill="#0a0a0a">Coll</text>
<text x="495.4" y="467.2" font-size="9.3" text-anchor="middle" fill="#0a0a0a">CRP</text>
<text transform="translate(347.3,408.5) rotate(-90)" font-size="9.1" font-weight="bold" text-anchor="middle" fill="#0a0a0a">Ratio</text>
<rect x="355.70" y="484.40" width="4.50" height="4.50" fill="#ffffff" stroke="#222" stroke-width="0.9"/>
<text x="365" y="488.8" font-size="9.3" text-anchor="start" fill="#0a0a0a">Control</text>
<rect x="355.70" y="498.20" width="4.50" height="4.50" fill="#8a8a8a" stroke="#222" stroke-width="0.9"/>
<text x="365" y="502.6" font-size="9.3" text-anchor="start" fill="#0a0a0a">Glanzmann 1</text>
<rect x="355.70" y="512.00" width="4.50" height="4.50" fill="#3a3a3a" stroke="#222" stroke-width="0.9"/>
<text x="365" y="516.4" font-size="9.3" text-anchor="start" fill="#0a0a0a">Glanzmann 2</text>
<rect x="355.70" y="525.80" width="4.50" height="4.50" fill="#000000" stroke="#222" stroke-width="0.9"/>
<text x="365" y="530.2" font-size="9.3" text-anchor="start" fill="#0a0a0a">LAD-III</text>
<text x="322" y="561" font-size="16.3" font-weight="bold" text-anchor="start" fill="#000">C</text>
<text x="322.5" y="584" font-size="12.6" font-weight="bold" fill="#111">Ratio active <tspan font-family='"Liberation Serif", serif' font-weight="normal" font-size="13.5">β</tspan>1 Integrin:</text>
<text x="322.5" y="598.6" font-size="12.6" font-weight="bold" text-anchor="start" fill="#111">HUTS-4 vs HUTS-21 (MFI)</text>
<rect x="365.60" y="720.00" width="148.90" height="12.30" fill="#ebebeb"/>
<text x="360" y="622" font-size="9.15" text-anchor="end" fill="#0a0a0a">8</text>
<text x="360" y="636" font-size="9.15" text-anchor="end" fill="#0a0a0a">7</text>
<text x="360" y="650" font-size="9.15" text-anchor="end" fill="#0a0a0a">6</text>
<text x="360" y="664" font-size="9.15" text-anchor="end" fill="#0a0a0a">5</text>
<text x="360" y="679" font-size="9.15" text-anchor="end" fill="#0a0a0a">4</text>
<text x="360" y="693" font-size="9.15" text-anchor="end" fill="#0a0a0a">3</text>
<text x="360" y="707" font-size="9.15" text-anchor="end" fill="#0a0a0a">2</text>
<text x="360" y="721" font-size="9.15" text-anchor="end" fill="#0a0a0a">1</text>
<text x="360" y="736" font-size="9.15" text-anchor="end" fill="#0a0a0a">0</text>
<line x1="374.52" y1="671.5" x2="374.52" y2="695.3" stroke="#808080" stroke-width="0.8"/>
<line x1="372.52" y1="671.5" x2="376.52" y2="671.5" stroke="#777" stroke-width="0.9"/>
<rect x="371.25" y="695.30" width="6.55" height="37.00" fill="#efefef" stroke="#6e6e6e" stroke-width="0.7"/>
<rect x="378.10" y="721.50" width="6.70" height="10.80" fill="#8a8a8a"/>
<rect x="384.70" y="714.00" width="6.70" height="18.30" fill="#3a3a3a"/>
<rect x="391.30" y="720.80" width="6.90" height="11.50" fill="#000000"/>
<line x1="410.82" y1="692.8" x2="410.82" y2="706.5" stroke="#808080" stroke-width="0.8"/>
<line x1="408.82" y1="692.8" x2="412.82" y2="692.8" stroke="#777" stroke-width="0.9"/>
<rect x="407.55" y="706.50" width="6.55" height="25.80" fill="#efefef" stroke="#6e6e6e" stroke-width="0.7"/>
<rect x="421.00" y="724.80" width="6.70" height="7.50" fill="#3a3a3a"/>
<rect x="427.60" y="727.30" width="6.90" height="5.00" fill="#000000"/>
<line x1="447.62" y1="632.2" x2="447.62" y2="663" stroke="#808080" stroke-width="0.8"/>
<line x1="445.62" y1="632.2" x2="449.62" y2="632.2" stroke="#777" stroke-width="0.9"/>
<rect x="444.35" y="663.00" width="6.55" height="69.30" fill="#efefef" stroke="#6e6e6e" stroke-width="0.7"/>
<rect x="451.20" y="689.50" width="6.70" height="42.80" fill="#8a8a8a"/>
<rect x="457.80" y="667.20" width="6.70" height="65.10" fill="#3a3a3a"/>
<rect x="464.40" y="722.90" width="6.90" height="9.40" fill="#000000"/>
<line x1="485.22" y1="656.2" x2="485.22" y2="672.5" stroke="#808080" stroke-width="0.8"/>
<line x1="483.22" y1="656.2" x2="487.22" y2="656.2" stroke="#777" stroke-width="0.9"/>
<rect x="481.95" y="672.50" width="6.55" height="59.80" fill="#efefef" stroke="#6e6e6e" stroke-width="0.7"/>
<rect x="488.80" y="681.00" width="6.70" height="51.30" fill="#8a8a8a"/>
<rect x="495.40" y="666.20" width="6.70" height="66.10" fill="#3a3a3a"/>
<rect x="502.00" y="717.60" width="6.90" height="14.70" fill="#000000"/>
<line x1="365.6" y1="618.3" x2="365.6" y2="732.9" stroke="#1a1a1a" stroke-width="1.3"/>
<line x1="365.0" y1="732.3" x2="514.5" y2="732.3" stroke="#1a1a1a" stroke-width="1.4"/>
<text x="383.7" y="744.3" font-size="9.3" text-anchor="middle" fill="#0a0a0a">PMA</text>
<text x="420.3" y="744.3" font-size="9.3" text-anchor="middle" fill="#0a0a0a">Risto</text>
<text x="456.9" y="744.3" font-size="9.3" text-anchor="middle" fill="#0a0a0a">Coll</text>
<text x="495.4" y="744.3" font-size="9.3" text-anchor="middle" fill="#0a0a0a">CRP</text>
<text transform="translate(347.3,670) rotate(-90)" font-size="9.1" font-weight="bold" text-anchor="middle" fill="#0a0a0a">Ratio</text>
</svg></body></html>
